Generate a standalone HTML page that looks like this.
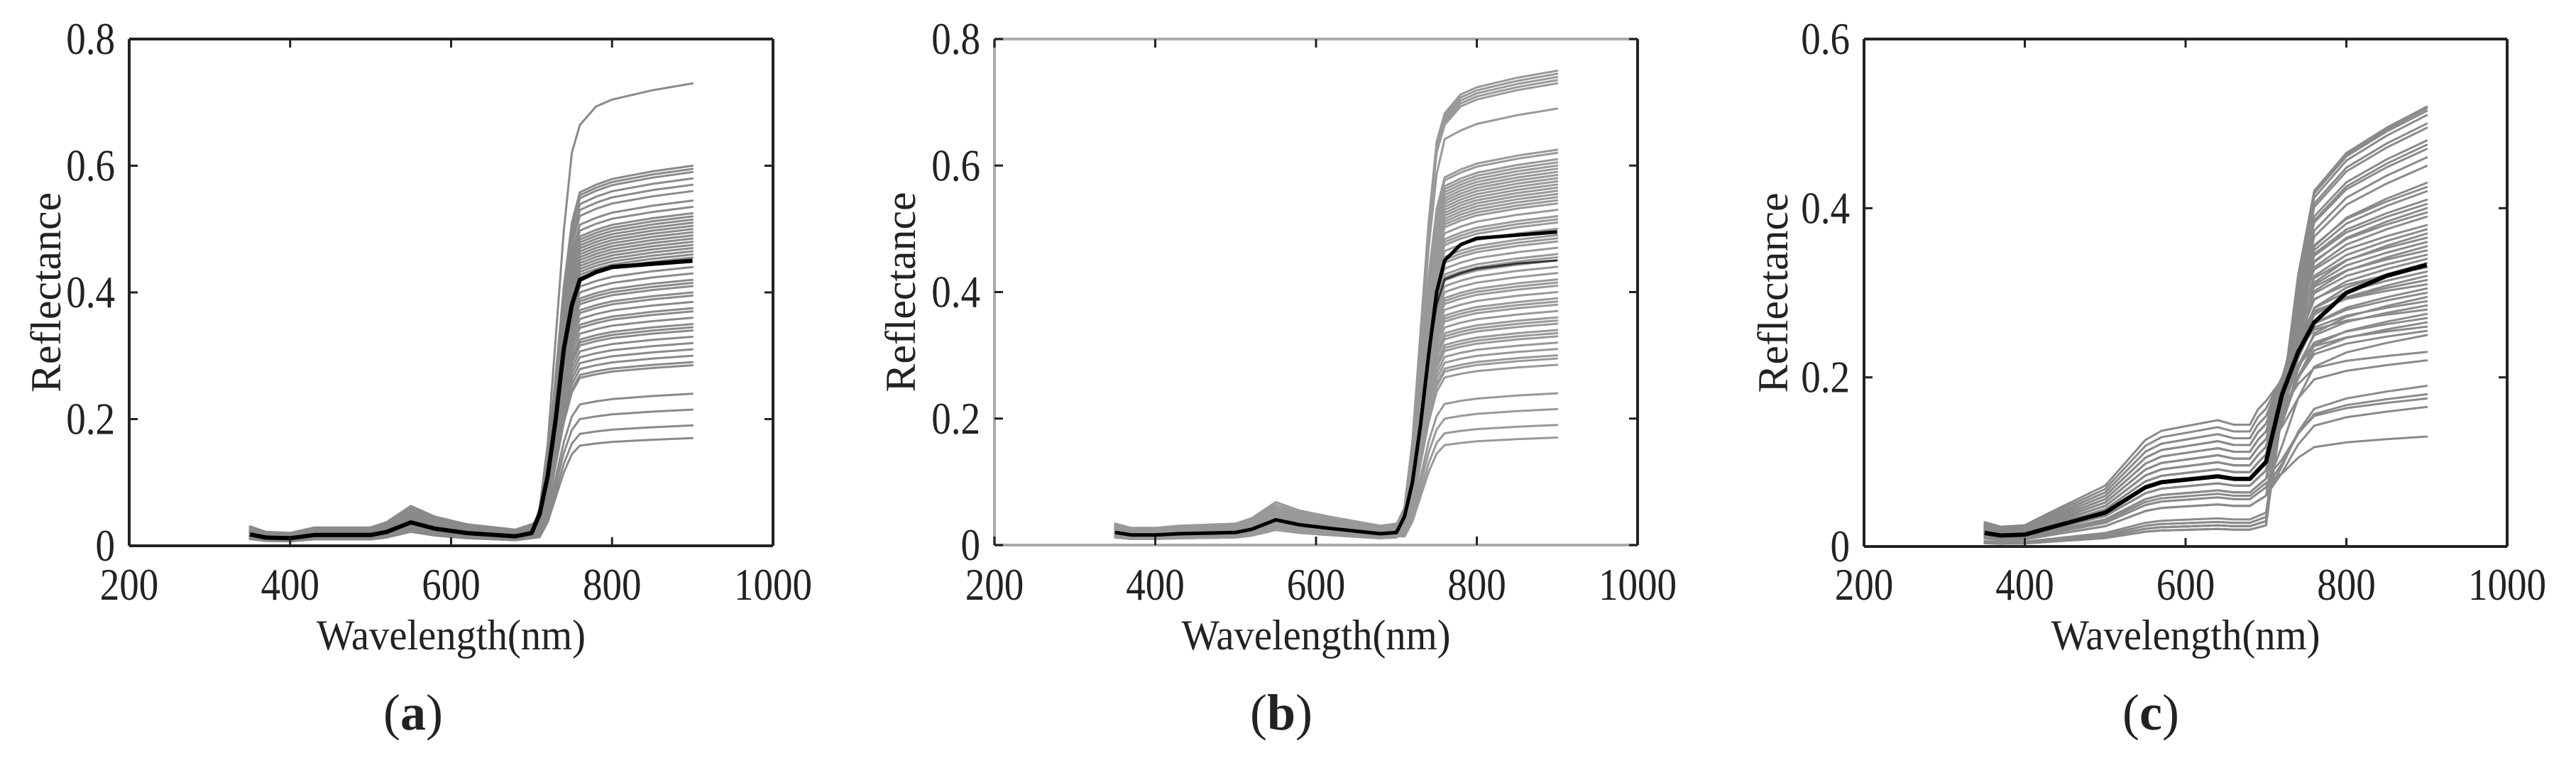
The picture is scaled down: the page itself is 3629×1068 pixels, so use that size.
<!DOCTYPE html>
<html><head><meta charset="utf-8">
<style>
html,body{margin:0;padding:0;background:#fff;}
svg{display:block;}
text{font-family:"Liberation Serif","DejaVu Serif",serif;fill:#222;}
</style></head>
<body>
<svg id="fig" width="3629" height="1068" viewBox="0 0 3629 1068" xmlns="http://www.w3.org/2000/svg" font-family="Liberation Serif, DejaVu Serif, serif"></svg>
<script>
// ---------- DATA ----------
const xTicks = [200, 400, 600, 800, 1000];
const yTicksAB = [0, 0.2, 0.4, 0.6, 0.8];
const yTickLabelsAB = ["0", "0.2", "0.4", "0.6", "0.8"];
const yTicksC = [0, 0.2, 0.4, 0.6];
const yTickLabelsC = ["0", "0.2", "0.4", "0.6"];

// Panel (a)
const wlA = [350,370,400,430,500,520,550,580,620,680,700,710,720,730,740,750,760,780,800,850,900];
const meanA = [0.018,0.013,0.012,0.017,0.017,0.022,0.037,0.027,0.020,0.015,0.020,0.05,0.11,0.20,0.31,0.38,0.42,0.432,0.44,0.445,0.45];
const plateauA = [0.73,0.60,0.595,0.59,0.58,0.57,0.56,0.545,0.535,0.525,0.52,0.515,0.51,0.505,0.50,0.495,0.49,0.485,0.48,0.475,0.47,0.465,0.46,0.455,0.44,0.43,0.42,0.415,0.41,0.40,0.395,0.385,0.375,0.37,0.36,0.35,0.345,0.34,0.33,0.32,0.31,0.30,0.29,0.285,0.24,0.215,0.19,0.17];
const visA = [1.2,1.6,0.8,1.3,1.0,0.7,1.5,0.9,1.1,1.4,0.6,1.2,0.9,1.7,1.0,0.8,1.3,1.1,0.7,1.5,0.9,1.2,1.0,0.8,1.4,1.1,0.6,1.3,0.9,1.0,1.2,0.8,1.5,1.0,0.7,1.1,1.3,0.9,1.2,0.8,1.0,1.4,0.9,1.1,0.7,1.0,0.8,0.6];

// Panel (b)
const wlB = [350,370,400,430,500,520,550,580,620,680,700,710,720,730,740,750,760,780,800,850,900];
const meanB = [0.020,0.016,0.016,0.018,0.020,0.025,0.040,0.032,0.026,0.018,0.020,0.045,0.10,0.19,0.30,0.40,0.45,0.475,0.485,0.490,0.495];
const mean2B = [0.020,0.016,0.016,0.018,0.020,0.025,0.040,0.032,0.026,0.018,0.020,0.045,0.10,0.19,0.30,0.38,0.42,0.430,0.437,0.445,0.450];
const plateauB = [0.75,0.745,0.74,0.735,0.73,0.69,0.625,0.62,0.61,0.605,0.60,0.595,0.59,0.585,0.58,0.575,0.57,0.565,0.56,0.555,0.55,0.545,0.54,0.53,0.52,0.515,0.51,0.50,0.49,0.485,0.48,0.47,0.46,0.455,0.45,0.44,0.43,0.42,0.415,0.41,0.40,0.39,0.385,0.38,0.37,0.36,0.355,0.35,0.34,0.335,0.33,0.32,0.31,0.30,0.295,0.285,0.24,0.215,0.19,0.17];
const visB = [1.2,1.6,0.8,1.3,1.0,0.7,1.5,0.9,1.1,1.4,0.6,1.2,0.9,1.7,1.0,0.8,1.3,1.1,0.7,1.5,0.9,1.2,1.0,0.8,1.4,1.1,0.6,1.3,0.9,1.0,1.2,0.8,1.5,1.0,0.7,1.1,1.3,0.9,1.2,0.8,1.0,1.4,0.9,1.1,0.7,1.0,0.8,0.6,1.2,0.9,1.3,1.0,0.8,1.1,0.7,1.0,1.2,0.9,0.8,0.7];

// Panel (c)
const wlC = [350,370,400,430,500,550,570,600,640,660,680,690,700,720,740,760,800,850,900];
const meanC = [0.016,0.013,0.014,0.022,0.040,0.070,0.076,0.079,0.083,0.080,0.080,0.090,0.10,0.18,0.23,0.265,0.30,0.32,0.333];
const plateauC = [0.52,0.518,0.515,0.51,0.50,0.495,0.48,0.475,0.47,0.46,0.45,0.43,0.425,0.42,0.41,0.405,0.40,0.395,0.39,0.38,0.375,0.37,0.365,0.36,0.355,0.35,0.345,0.34,0.335,0.33,0.325,0.32,0.315,0.31,0.305,0.30,0.295,0.29,0.285,0.28,0.275,0.27,0.265,0.26,0.255,0.25,0.23,0.22,0.19,0.18,0.175,0.165,0.13];
const visC = [0.25,0.25,0.3,0.25,0.3,0.3,0.35,0.3,0.4,0.3,0.35,0.6,0.9,0.8,1.0,1.1,0.9,1.2,1.0,1.3,1.1,0.9,1.4,1.2,1.0,1.5,1.3,1.1,0.8,1.6,1.2,1.0,1.4,1.7,1.1,1.3,0.9,1.5,1.2,1.8,1.0,1.4,1.1,1.6,1.3,0.7,1.5,1.2,0.6,0.7,0.8,0.6,0.75];

// ---------- RENDER ----------
const NS = "http://www.w3.org/2000/svg";
const svg = document.getElementById("fig");
function mk(tag, attrs, parent){
  const e = document.createElementNS(NS, tag);
  for (const k in attrs) e.setAttribute(k, attrs[k]);
  (parent||svg).appendChild(e);
  return e;
}
const FF = "Liberation Serif, DejaVu Serif, serif";
function addText(parent, str, x, y, size, anchor, sx){
  const g = mk("g", {transform:`translate(${x},${y}) scale(${sx},1)`}, parent);
  const t = mk("text", {x:0, y:0, "font-size":size, "text-anchor":anchor, "font-family":FF}, g);
  t.textContent = str;
  return t;
}

function buildGrayAB(wl, mean, p, v, top){
  const fr = {710:0.08,720:0.22,730:0.45,740:0.68,750:0.85,760:(top?0.91:0.93),780:0.95,800:0.965,850:0.985,900:1};
  return wl.map((w,i)=>{
    if (w <= 700) return mean[i]*v;
    return fr[w]*p;
  });
}
function buildGrayC(wl, mean, p, v){
  const base = 0.09*v;
  const fr = {720:0.3,740:0.6,760:0.8,800:0.89,850:0.95,900:1};
  return wl.map((w,i)=>{
    if (w <= 700) return mean[i]*Math.min(v,1) + (w===700 ? 0 : 0) + (v>1 ? (mean[i]*(v-1)) : 0) * (w===700 ? 0.9 : 1);
    return base + fr[w]*(p-base);
  });
}

function panel(cfg){
  const g = mk("g", {}, svg);
  
  
  const {L,R,T,B,ymax} = cfg;
  const xs = v => L + (v-200)/800*(R-L);
  const ys = v => B - v/ymax*(B-T);

  const sg = mk("g", {fill:"none", "stroke-linejoin":"round", "stroke-linecap":"round"}, g);
  
  
  cfg.gray.forEach((vals)=>{
    const pth = mk("path", {d: cfg.wl.map((w,i)=>(i?"L":"M")+xs(w).toFixed(1)+","+ys(vals[i]).toFixed(1)).join(""), stroke: cfg.grayColor, "stroke-width": cfg.grayW}, sg);
    
    
  });
  cfg.means.forEach((m)=>{
    const pth = mk("path", {d: cfg.wl.map((w,i)=>(i?"L":"M")+xs(w).toFixed(1)+","+ys(m.v[i]).toFixed(1)).join(""), stroke: m.c, "stroke-width": m.w, fill:"none", "stroke-linejoin":"round"}, g);
    
    
  });

  const bx = mk("g", {"stroke-width":4, fill:"none"}, g);
  
  
  mk("line",{x1:L,y1:T,x2:R,y2:T,stroke:cfg.boxC},bx);
  mk("line",{x1:L,y1:B,x2:R,y2:B,stroke:cfg.boxC},bx);
  mk("line",{x1:L,y1:T,x2:L,y2:B,stroke:cfg.boxC},bx);
  mk("line",{x1:R,y1:T,x2:R,y2:B,stroke:"#222"},bx);

  cfg.xt.forEach((t)=>{
    const x = xs(t);
    mk("line",{x1:x,y1:B,x2:x,y2:B-12,stroke:"#222","stroke-width":3},g);
    mk("line",{x1:x,y1:T,x2:x,y2:T+12,stroke:"#222","stroke-width":3},g);
    const tx = addText(g, String(t), x, 845, 64, "middle", 0.86);
    
    
  });
  cfg.yt.forEach((t,i)=>{
    const y = ys(t);
    mk("line",{x1:L,y1:y,x2:L+12,y2:y,stroke:"#222","stroke-width":3},g);
    mk("line",{x1:R,y1:y,x2:R-12,y2:y,stroke:"#222","stroke-width":3},g);
    const ty = addText(g, cfg.ytl[i], L-20, y+21, 64, "end", 0.86);
    
    
  });

  const xt = mk("text",{x:(L+R)/2, y:915, "font-size":60, "text-anchor":"middle", textLength:379, lengthAdjust:"spacingAndGlyphs", "font-family":FF}, g);
  xt.textContent = "Wavelength(nm)";
  
  
  const yg = mk("g",{transform:`translate(${L-cfg.yOff+20},${(T+B)/2}) rotate(-90)`}, g);
  const yt = mk("text",{x:0,y:0,"font-size":60,"text-anchor":"middle", textLength:282, lengthAdjust:"spacingAndGlyphs", "font-family":FF}, yg);
  yt.textContent = "Reflectance";
  
  

  const sub = mk("text",{x:cfg.subX, y:1028, "font-size":72, "text-anchor":"middle", "font-family":FF}, g);
  sub.innerHTML = '(<tspan font-weight="bold">'+cfg.letter+'</tspan>)';
  
  
}

panel({name:"panel-a", L:182,R:1089,T:55,B:769,ymax:0.8, wl:wlA,
  gray: plateauA.map((p,k)=>buildGrayAB(wlA, meanA, p, visA[k], k===0)),
  means:[{v:meanA,c:"#000",w:6}], grayColor:"#8a8a8a", grayW:3, boxC:"#222",
  xt:xTicks, yt:yTicksAB, ytl:yTickLabelsAB, yOff:117, subX:582, letter:"a"});
panel({name:"panel-b", L:1401,R:2307,T:55,B:768,ymax:0.8, wl:wlB,
  gray: plateauB.map((p,k)=>buildGrayAB(wlB, meanB, p, visB[k], k<5)),
  means:[{v:mean2B,c:"#333",w:3},{v:meanB,c:"#000",w:5}], grayColor:"#999", grayW:3, boxC:"#aaa",
  xt:xTicks, yt:yTicksAB, ytl:yTickLabelsAB, yOff:132, subX:1805, letter:"b"});
panel({name:"panel-c", L:2626,R:3532,T:55,B:770,ymax:0.6, wl:wlC,
  gray: plateauC.map((p,k)=>buildGrayC(wlC, meanC, p, visC[k])),
  means:[{v:meanC,c:"#000",w:6}], grayColor:"#8a8a8a", grayW:3, boxC:"#222",
  xt:xTicks, yt:yTicksC, ytl:yTickLabelsC, yOff:128, subX:3030, letter:"c"});
</script>
</body></html>
